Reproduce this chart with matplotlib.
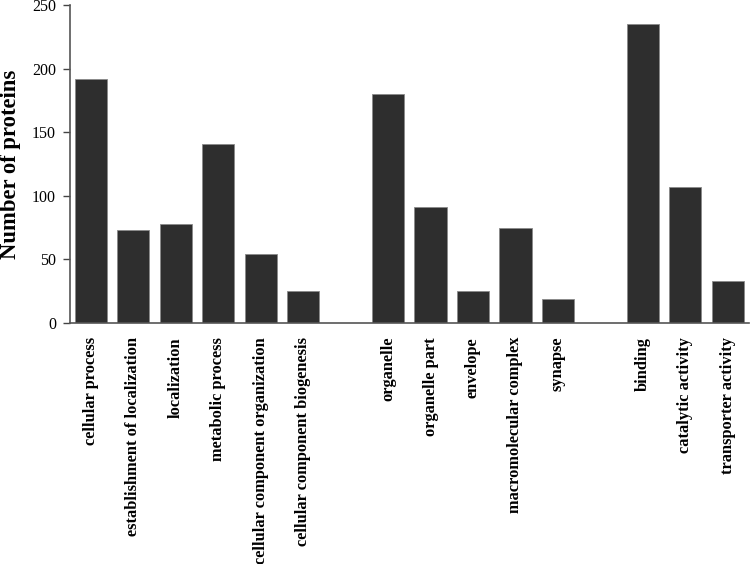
import matplotlib
matplotlib.use("Agg")
import matplotlib.pyplot as plt

categories = ["cellular process", "establishment of localization", "localization",
              "metabolic process", "cellular component organization",
              "cellular component biogenesis",
              "organelle", "organelle part", "envelope", "macromolecular complex", "synapse",
              "binding", "catalytic activity", "transporter activity"]
values = [192, 73, 78, 141, 54, 25, 180, 91, 25, 75, 19, 235, 107, 33]
group_sizes = [6, 5, 3]
yticks = [0, 50, 100, 150, 200, 250]

positions = []
p = 0
for g in group_sizes:
    for i in range(g):
        positions.append(p)
        p += 1
    p += 1

plt.rcParams['font.family'] = ['Liberation Serif', 'DejaVu Serif']
fig = plt.figure(figsize=(7.5, 5.64), dpi=100)
ax = fig.add_axes([70/750, 1-323/564, 679/750, 318/564])
ax.bar(positions, values, width=0.76, color="#2e2e2e", edgecolor="#8a8a8a", linewidth=0.6)
ax.set_xlim(-0.49, 15.5)
ax.set_ylim(0, 250)
ax.set_yticks(yticks)
ax.set_yticklabels([str(t) for t in yticks], fontsize=11.5)
ax.set_xticks(positions)
ax.set_xticklabels(categories, rotation=90, fontsize=11.8, fontweight="bold", va="top")
ax.tick_params(axis="x", length=0, pad=10)
ax.tick_params(axis="y", length=5, width=1, color="#444444", direction="out", pad=5)
ax.set_ylabel("Number of proteins", fontsize=16.3, fontweight="bold", va="center")
ax.yaxis.set_label_coords(-0.088, 0.5)
for s in ["top", "right"]:
    ax.spines[s].set_visible(False)
for s in ["left", "bottom"]:
    ax.spines[s].set_color("#555555")
    ax.spines[s].set_linewidth(1.2)
fig.savefig("out.png", dpi=100)
